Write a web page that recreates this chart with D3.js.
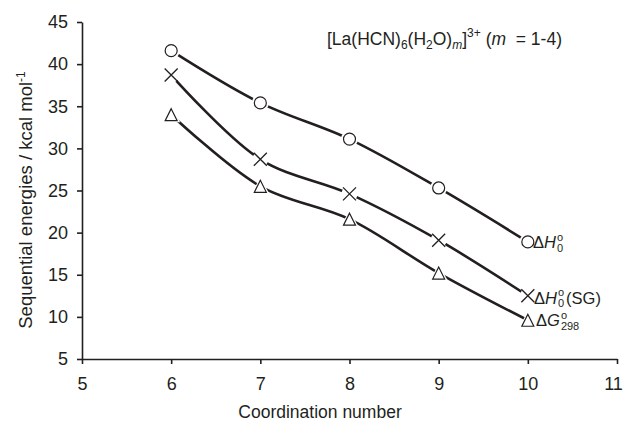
<!DOCTYPE html>
<html lang="en">
<head>
  <meta charset="UTF-8">
  <title>Sequential energies</title>
  <style>
    body { margin: 0; background: #fff; }
    svg { font-family: "Liberation Sans", Arial, sans-serif; fill: #231f20; }
    .axis path, .axis line { stroke: #231f20; stroke-width: 1.6px; }
    .axis text { font-size: 18px; fill: #231f20; }
    .series { fill: none; stroke: #231f20; stroke-width: 2.6px; }
  </style>
</head>
<body>
  <svg id="chart" width="625" height="426"></svg>
  <script src="https://d3js.org/d3.v7.min.js"></script>
  <script>
    // Values
    const coordination = [6, 7, 8, 9, 10];
    const dH0 = [41.6, 35.4, 31.1, 25.3, 18.9];
    const dH0SG = [38.7, 28.7, 24.6, 19.1, 12.5];
    const dG298 = [34.0, 25.5, 21.6, 15.2, 9.6];
    const xTicks = [5, 6, 7, 8, 9, 10, 11];
    const yTicks = [5, 10, 15, 20, 25, 30, 35, 40, 45];

    const svg = d3.select("#chart");
    const x = d3.scaleLinear().domain([5, 11]).range([82, 617]);
    const y = d3.scaleLinear().domain([5, 45]).range([359, 22]);

    // axes
    svg.append("g")
      .attr("class", "axis")
      .attr("transform", `translate(0,${y(5)})`)
      .call(d3.axisBottom(x).tickValues(xTicks).tickFormat(d3.format("d"))
        .tickSize(5).tickSizeOuter(0).tickPadding(13))
      .call(g => g.selectAll("text").attr("dy", "0.71em"))
      .call(g => g.selectAll("text").filter(d => d === 11).attr("dx", -4)); // keep "11" inside the frame

    svg.append("g")
      .attr("class", "axis")
      .attr("transform", `translate(${x(5)},0)`)
      .call(d3.axisLeft(y).tickValues(yTicks).tickSize(5).tickSizeOuter(0).tickPadding(9));

    // axis titles
    svg.append("text")
      .attr("x", 320).attr("y", 418)
      .attr("text-anchor", "middle")
      .style("font-size", "17.5px")
      .text("Coordination number");

    const yt = svg.append("text")
      .attr("transform", "translate(32,200) rotate(-90)")
      .attr("text-anchor", "middle")
      .style("font-size", "18.5px");
    yt.append("tspan").text("Sequential energies / kcal mol");
    yt.append("tspan").attr("dy", -7).style("font-size", "12px").text("-1");

    // smoothed lines
    const line = d3.line()
      .x((d, i) => x(coordination[i]))
      .y(d => y(d))
      .curve(d3.curveCatmullRom.alpha(0.5));

    [dH0, dH0SG, dG298].forEach(s => {
      svg.append("path").attr("class", "series").attr("d", line(s));
    });

    // markers with a white halo so lines stop short of them
    const mk = svg.append("g");
    dH0.forEach((v, i) => {
      const cx = x(coordination[i]), cy = y(v);
      mk.append("circle").attr("cx", cx).attr("cy", cy).attr("r", 8.5).attr("fill", "#fff");
      mk.append("circle").attr("cx", cx).attr("cy", cy).attr("r", 6)
        .attr("fill", "#fff").attr("stroke", "#231f20").attr("stroke-width", 1.2);
    });
    dH0SG.forEach((v, i) => {
      const cx = x(coordination[i]), cy = y(v), s = 6.5;
      mk.append("circle").attr("cx", cx).attr("cy", cy).attr("r", 8).attr("fill", "#fff");
      mk.append("path")
        .attr("d", `M${cx - s},${cy - s}L${cx + s},${cy + s}M${cx - s},${cy + s}L${cx + s},${cy - s}`)
        .attr("stroke", "#231f20").attr("stroke-width", 1.3).attr("fill", "none");
    });
    dG298.forEach((v, i) => {
      const cx = x(coordination[i]), cy = y(v), w = 6, h = 6;
      mk.append("path")
        .attr("d", `M${cx},${cy - h - 3}L${cx + w + 3},${cy + h + 1.5}L${cx - w - 3},${cy + h + 1.5}Z`)
        .attr("fill", "#fff");
      mk.append("path")
        .attr("d", `M${cx},${cy - h}L${cx + w},${cy + h}L${cx - w},${cy + h}Z`)
        .attr("fill", "#fff").attr("stroke", "#231f20").attr("stroke-width", 1.2);
    });

    // series labels beside the last points
    function label(xp, yp, letter, sub, tail, supDy, subDy) {
      const g = svg.append("g").style("font-size", "16.5px");
      const t = g.append("text").attr("x", xp).attr("y", yp);
      t.append("tspan").text("\u0394");
      t.append("tspan").style("font-style", "italic").text(letter);
      const w = t.node().getComputedTextLength();
      const o = g.append("text").attr("x", xp + w + 1).attr("y", yp + supDy).style("font-size", "11px").text("o");
      const s = g.append("text").attr("x", xp + w + 1).attr("y", yp + subDy).style("font-size", "11px").text(sub);
      if (tail) {
        const sw = Math.max(s.node().getComputedTextLength(), o.node().getComputedTextLength());
        g.append("text").attr("x", xp + w + sw + 3).attr("y", yp).text(tail);
      }
    }
    label(533, 248, "H", "0", null, -7, 4);
    label(534, 304, "H", "0", "(SG)", -8, 3);
    label(536, 326, "G", "298", null, -7, 4);

    // title
    const tt = svg.append("text").attr("x", 327).attr("y", 45).style("font-size", "17.5px");
    tt.append("tspan").text("[La(HCN)");
    tt.append("tspan").attr("dy", 4).style("font-size", "12px").text("6");
    tt.append("tspan").attr("dy", -4).text("(H");
    tt.append("tspan").attr("dy", 4).style("font-size", "12px").text("2");
    tt.append("tspan").attr("dy", -4).text("O)");
    tt.append("tspan").attr("dy", 4).style("font-size", "12px").style("font-style", "italic").text("m");
    tt.append("tspan").attr("dy", -4).text("]");
    tt.append("tspan").attr("dy", -8).style("font-size", "12px").text("3+");
    tt.append("tspan").attr("dy", 8).text(" (");
    tt.append("tspan").style("font-style", "italic").text("m");
    tt.append("tspan").text("\u00a0\u00a0= 1-4)");
  </script>
</body>
</html>
